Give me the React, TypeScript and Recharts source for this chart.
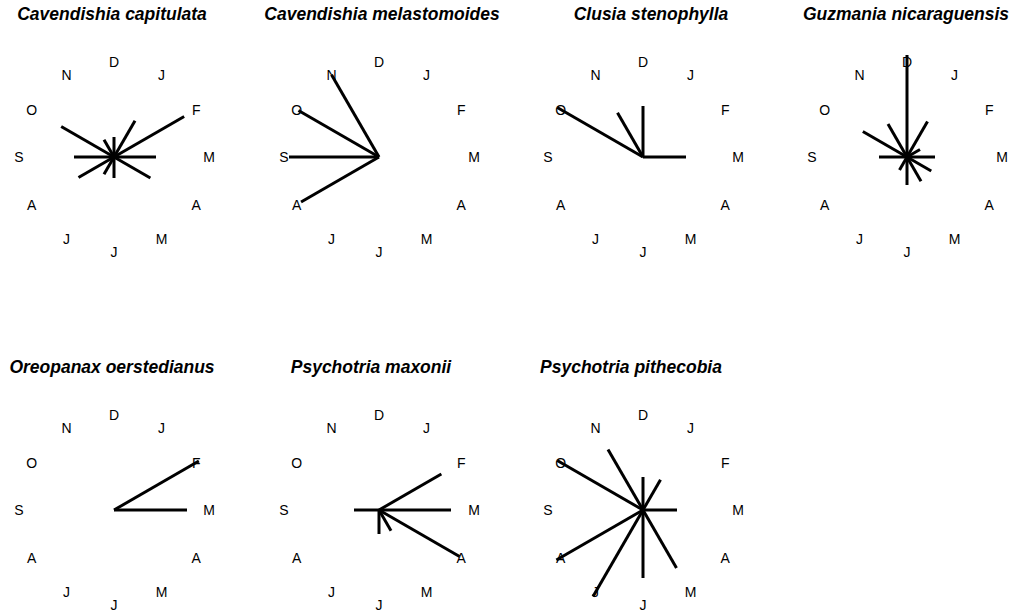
import { RadarChart, Radar, PolarAngleAxis, PolarRadiusAxis } from 'recharts';

// months clockwise from the top of each rose
const monthKeys = ['Dec', 'Jan', 'Feb', 'Mar', 'Apr', 'May', 'Jun', 'Jul', 'Aug', 'Sep', 'Oct', 'Nov'];
const monthLabels = ['D', 'J', 'F', 'M', 'A', 'M', 'J', 'J', 'A', 'S', 'O', 'N'];

const speciesNames = [
  'Cavendishia capitulata',
  'Cavendishia melastomoides',
  'Clusia stenophylla',
  'Guzmania nicaraguensis',
  'Oreopanax oerstedianus',
  'Psychotria maxonii',
  'Psychotria pithecobia',
];

// spoke lengths per month, same order as monthKeys
const cavendishiaCapitulata = [20, 42, 81, 42, 42, 0, 21, 20, 41, 40, 61, 20];
const cavendishiaMelastomoides = [0, 0, 0, 0, 0, 0, 0, 0, 90, 90, 93, 95];
const clusiaStenophylla = [51, 0, 0, 43, 0, 0, 0, 0, 0, 0, 99, 51];
const guzmaniaNicaraguensis = [102, 41, 15, 28, 28, 28, 28, 15, 0, 28, 51, 38];
const oreopanaxOerstedianus = [0, 0, 98, 73, 0, 0, 0, 0, 0, 0, 0, 0];
const psychotriaMaxonii = [0, 0, 72, 72, 93, 24, 24, 0, 0, 25, 0, 0];
const psychotriaPithecobia = [33, 35, 0, 34, 0, 67, 68, 100, 100, 0, 99, 70];

const panelValues = [
  cavendishiaCapitulata,
  cavendishiaMelastomoides,
  clusiaStenophylla,
  guzmaniaNicaraguensis,
  oreopanaxOerstedianus,
  psychotriaMaxonii,
  psychotriaPithecobia,
];

const colX = [114, 379, 643, 907];
const rowY = [157, 510];
// titles are not quite centred over the roses
const titleX = [112, 382, 651, 906, 112, 371, 631];

const W = 264;
const H = 340;
const font = '"Liberation Sans", Arial, Helvetica, sans-serif';

const labelFor: Record<string, string> = Object.fromEntries(monthKeys.map((k, i) => [k, monthLabels[i]]));

function MonthTick(props: any) {
  const { x, y, payload } = props;
  return (
    <text x={x} y={y} textAnchor="middle" dominantBaseline="central" fontSize={14} fontFamily={font} fill="#000">
      {labelFor[payload.value]}
    </text>
  );
}

function Spokes(props: any) {
  const points = props.points || [];
  return (
    <g>
      {points
        .filter((p: any) => p.value > 0)
        .map((p: any, i: number) => (
          <line key={i} x1={p.cx ?? W / 2} y1={p.cy ?? H / 2} x2={p.x} y2={p.y} stroke="#000" strokeWidth={3} />
        ))}
    </g>
  );
}

function Rose({ values }: { values: number[] }) {
  const rows = monthKeys.map((m, i) => ({ month: m, value: values[i] }));
  return (
    <RadarChart width={W} height={H} cx={W / 2} cy={H / 2} outerRadius={100} data={rows} margin={{ top: 0, right: 0, bottom: 0, left: 0 }}>
      <PolarAngleAxis dataKey="month" tick={<MonthTick />} tickLine={false} axisLine={false} orientation="inner" tickSize={5} />
      <PolarRadiusAxis domain={[0, 100]} allowDataOverflow tick={false} axisLine={false} />
      <Radar dataKey="value" shape={(p: any) => <Spokes {...p} />} dot={false} fill="none" stroke="none" isAnimationActive={false} />
    </RadarChart>
  );
}

export default function App() {
  return (
    <div style={{ position: 'absolute', left: 0, top: 0, width: 1015, height: 611, background: '#fff', fontFamily: font }}>
      {speciesNames.map((name, i) => {
        const cx = colX[i % 4];
        const cy = rowY[Math.floor(i / 4)];
        return (
          <div key={name}>
            <div
              style={{
                position: 'absolute',
                left: titleX[i] - 150,
                top: cy - 154,
                width: 300,
                textAlign: 'center',
                fontSize: 17.5,
                lineHeight: '22px',
                fontWeight: 'bold',
                fontStyle: 'italic',
                color: '#000',
                whiteSpace: 'nowrap',
              }}
            >
              {name}
            </div>
            <div style={{ position: 'absolute', left: cx - W / 2, top: cy - H / 2 }}>
              <Rose values={panelValues[i]} />
            </div>
          </div>
        );
      })}
    </div>
  );
}
